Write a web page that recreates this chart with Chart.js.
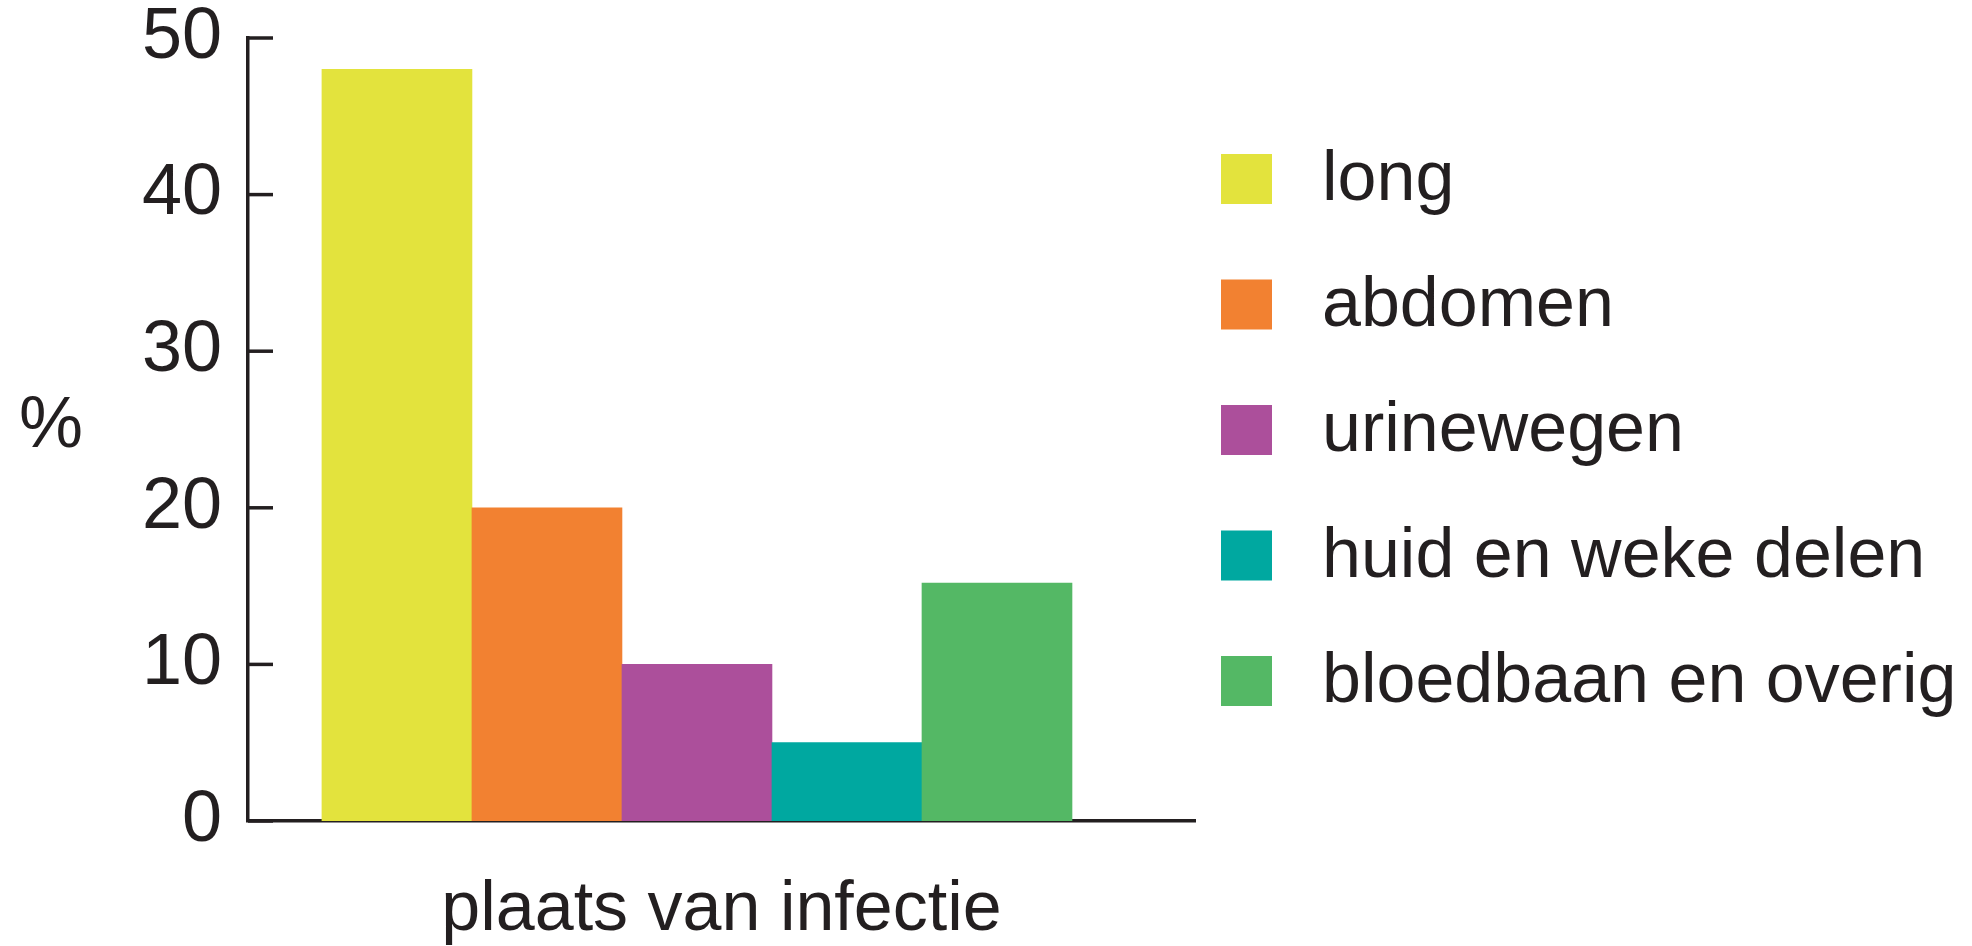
<!DOCTYPE html>
<html>
<head>
  <title>Plaats van infectie</title>
  <script src="https://cdn.jsdelivr.net/npm/chart.js@4.4.1/dist/chart.umd.min.js"></script>
  <style>
    html, body { margin: 0; padding: 0; background: #fff; }
    #wrap { width: 1972px; height: 946px; position: relative; }
  </style>
</head>
<body>
  <div id="wrap"><canvas id="myChart"></canvas></div>

  <script>
    // data
    const categories = ['long', 'abdomen', 'urinewegen', 'huid en weke delen', 'bloedbaan en overig'];
    const percentages = [48, 20, 10, 5, 15.2];
    const barColors = ['#e3e33d', '#f28131', '#ac4f9b', '#00a8a0', '#54b865'];
    const yTicks = [0, 10, 20, 30, 40, 50];
    const yTitle = '%';
    const xTitle = 'plaats van infectie';

    const ink = '#231f20';
    const fontFamily = '"Liberation Sans", Arial, Helvetica, sans-serif';

    // tick marks pointing inwards + the horizontal "%" label
    const axisExtras = {
      id: 'axisExtras',
      afterDatasetsDraw(chart) {
        const ctx = chart.ctx;
        const y = chart.scales.y;
        const area = chart.chartArea;
        ctx.save();
        ctx.strokeStyle = ink;
        ctx.lineWidth = 3.5;
        yTicks.forEach(v => {
          const py = y.getPixelForValue(v);
          ctx.beginPath();
          ctx.moveTo(area.left, py);
          ctx.lineTo(area.left + 25, py);
          ctx.stroke();
        });
        ctx.fillStyle = ink;
        ctx.font = '72px ' + fontFamily;
        ctx.textAlign = 'center';
        ctx.textBaseline = 'alphabetic';
        ctx.fillText(yTitle, 51, (area.top + area.bottom) / 2 + 17);
        ctx.restore();
      }
    };

    // legend on the right, one box per category
    const sideLegend = {
      id: 'sideLegend',
      afterDraw(chart) {
        const ctx = chart.ctx;
        const ds = chart.data.datasets[0];
        ctx.save();
        ctx.font = '70px ' + fontFamily;
        ctx.textBaseline = 'alphabetic';
        ctx.textAlign = 'left';
        categories.forEach((name, i) => {
          const top = 154 + i * 125.5;
          ctx.fillStyle = ds.backgroundColor[i];
          ctx.fillRect(1221, top, 51, 50);
          ctx.fillStyle = ink;
          ctx.fillText(name, 1322, top + 46);
        });
        ctx.restore();
      }
    };

    new Chart(document.getElementById('myChart'), {
      type: 'bar',
      data: {
        datasets: [{
          label: xTitle,
          data: categories.map((c, i) => ({ x: i, y: percentages[i] })),
          backgroundColor: barColors,
          borderWidth: 0,
          barPercentage: 1,
          categoryPercentage: 1
        }]
      },
      options: {
        responsive: true,
        maintainAspectRatio: false,
        animation: false,
        layout: { padding: { top: 38, right: 777, left: 0, bottom: 0 } },
        plugins: {
          legend: { display: false },
          tooltip: { enabled: false }
        },
        scales: {
          x: {
            type: 'linear',
            min: -0.993,
            max: 5.32,
            offset: false,
            z: 1,
            grid: { display: false },
            ticks: { display: false, stepSize: 1, includeBounds: false },
            border: { display: true, color: ink, width: 3.5 },
            title: {
              display: true,
              text: xTitle,
              color: ink,
              font: { family: fontFamily, size: 70, lineHeight: 1 },
              padding: { top: 0, bottom: 0 }
            },
            afterFit(scale) {
              scale.height = 125;
              scale.paddingLeft = 0;
              scale.paddingRight = 0;
            }
          },
          y: {
            min: 0,
            max: 50,
            grid: { display: false },
            border: { display: true, color: ink, width: 3.5 },
            ticks: {
              stepSize: 10,
              color: ink,
              padding: 18,
              font: { family: fontFamily, size: 72, lineHeight: 1 }
            },
            afterFit(scale) {
              scale.width = 248;
              scale.paddingTop = 0;
              scale.paddingBottom = 0;
            }
          }
        }
      },
      plugins: [axisExtras, sideLegend]
    });
  </script>
</body>
</html>
